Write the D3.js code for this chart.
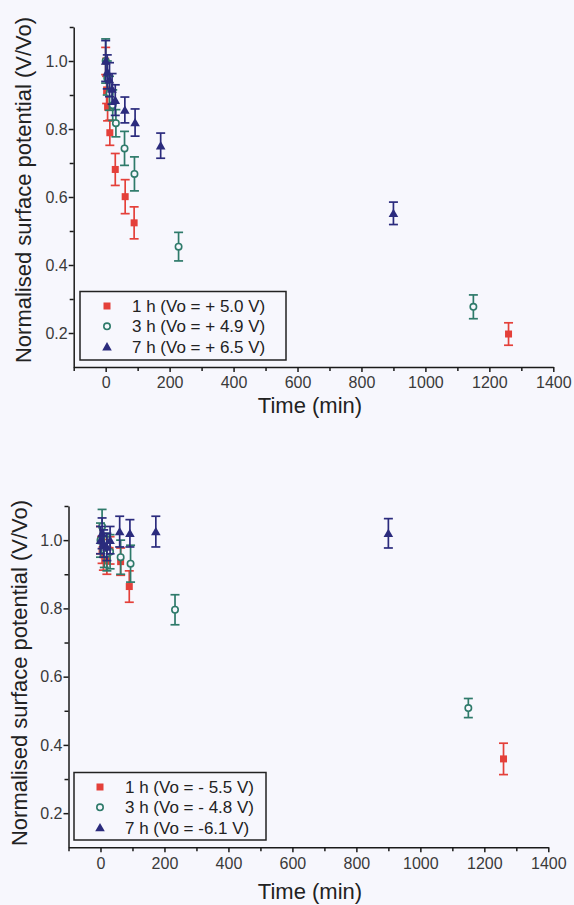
<!DOCTYPE html>
<html><head><meta charset="utf-8">
<script src="https://cdn.jsdelivr.net/npm/d3@7"></script>
<style>html,body{margin:0;padding:0;background:#f7f7fd;} svg{display:block;}</style>
</head><body><svg id="c" width="574" height="905"></svg>
<script>
// ---------- data ----------
const xTicks = [0, 200, 400, 600, 800, 1000, 1200, 1400];
const xMinorTicks = [-100, 100, 300, 500, 700, 900, 1100, 1300];
const yTicks = [0.2, 0.4, 0.6, 0.8, 1.0];
const yMinorTicks = [0.3, 0.5, 0.7, 0.9, 1.1];

const topLegend = ["1 h (Vo = + 5.0 V)", "3 h (Vo = + 4.9 V)", "7 h (Vo = + 6.5 V)"];
const bottomLegend = ["1 h (Vo = - 5.5 V)", "3 h (Vo = - 4.8 V)", "7 h (Vo = -6.1 V)"];

// top panel (positive charge)
const top1hTime  = [0, 3, 6, 13, 30, 61, 89, 1260];
const top1hValue = [1.0, 0.915, 0.864, 0.789, 0.681, 0.601, 0.524, 0.197];
const top1hError = [0.04, 0.04, 0.04, 0.037, 0.047, 0.05, 0.047, 0.033];
const top3hTime  = [0, 5, 12, 22, 32, 59, 90, 228, 1150];
const top3hValue = [1.0, 0.95, 0.905, 0.87, 0.817, 0.743, 0.668, 0.454, 0.277];
const top3hError = [0.065, 0.05, 0.05, 0.045, 0.04, 0.05, 0.05, 0.042, 0.035];
const top7hTime  = [0, 5, 12, 20, 30, 60, 92, 172, 900];
const top7hValue = [1.0, 0.968, 0.945, 0.918, 0.885, 0.856, 0.819, 0.751, 0.552];
const top7hError = [0.06, 0.05, 0.05, 0.045, 0.045, 0.038, 0.04, 0.037, 0.033];

// bottom panel (negative charge)
const bot1hTime  = [0, 5, 9, 20, 30, 63, 90, 1260];
const bot1hValue = [1.0, 0.972, 0.957, 0.94, 0.97, 0.937, 0.864, 0.359];
const bot1hError = [0.04, 0.04, 0.045, 0.04, 0.04, 0.04, 0.046, 0.046];
const bot3hTime  = [0, 5, 12, 20, 30, 63, 94, 233, 1150];
const bot3hValue = [1.0, 1.04, 0.97, 0.96, 0.966, 0.95, 0.931, 0.796, 0.508];
const bot3hError = [0.05, 0.05, 0.05, 0.05, 0.05, 0.05, 0.054, 0.044, 0.028];
const bot7hTime  = [0, 5, 10, 20, 30, 60, 92, 173, 900];
const bot7hValue = [1.0, 1.02, 0.99, 0.98, 1.0, 1.025, 1.02, 1.025, 1.02];
const bot7hError = [0.04, 0.045, 0.04, 0.04, 0.04, 0.045, 0.04, 0.045, 0.043];

// ---------- drawing ----------
const colors = ["#e4403a", "#2e7a6a", "#2b2b7d"];
const svg = d3.select("#c");
svg.append("rect").attr("width", 574).attr("height", 905).attr("fill", "#f7f7fd");

function zip(t, v, e) { return t.map((d, i) => ({t: d, v: v[i], e: e[i]})); }

function drawMarker(sel, k, fx, fy) {
  const c = colors[k];
  if (k === 0) {
    sel.append("rect").attr("x", d => fx(d) - 3.5).attr("y", d => fy(d) - 3.5)
      .attr("width", 7).attr("height", 7).attr("fill", c);
  } else if (k === 1) {
    sel.append("circle").attr("cx", fx).attr("cy", fy).attr("r", 3.2)
      .attr("fill", "#f7f7fd").attr("stroke", c).attr("stroke-width", 1.6);
  } else {
    sel.append("path").attr("d", d3.symbol(d3.symbolTriangle, 40)())
      .attr("transform", d => `translate(${fx(d)},${fy(d) + 1})`).attr("fill", c);
  }
}

function panel(cfg) {
  const x = d3.scaleLinear().domain([-100, 1400]).range(cfg.xr);
  const y = d3.scaleLinear().domain([0.1, 1.1]).range(cfg.yr);
  const g = svg.append("g");
  const font = "Liberation Sans, Arial, sans-serif";

  const xa = g.append("g").attr("transform", `translate(0,${cfg.yr[0]})`)
    .call(d3.axisBottom(x).tickValues(xTicks).tickFormat(d3.format("d")).tickSize(5).tickPadding(5).tickSizeOuter(0));
  const xm = g.append("g").attr("transform", `translate(0,${cfg.yr[0]})`)
    .call(d3.axisBottom(x).tickValues(xMinorTicks).tickFormat("").tickSize(4).tickSizeOuter(0));
  const ya = g.append("g").attr("transform", `translate(${cfg.xr[0]},0)`)
    .call(d3.axisLeft(y).tickValues(yTicks).tickFormat(d3.format(".1f")).tickSize(5).tickPadding(1).tickSizeOuter(0));
  const ym = g.append("g").attr("transform", `translate(${cfg.xr[0]},0)`)
    .call(d3.axisLeft(y).tickValues(yMinorTicks).tickFormat("").tickSize(4).tickSizeOuter(0));
  [xa, xm, ya, ym].forEach(a => {
    a.selectAll("path,line").attr("stroke", "#1a1a1a").attr("stroke-width", 1.5);
    a.selectAll("text").attr("font-family", font).attr("font-size", 16).attr("fill", "#3a3a3a");
  });
  xm.select("path").remove(); ym.select("path").remove();

  g.append("text").attr("x", 310).attr("y", cfg.xTitleY).attr("text-anchor", "middle")
    .attr("font-family", font).attr("font-size", 22).attr("fill", "#222").text("Time (min)");
  g.append("text").attr("transform", `translate(${cfg.yTitleX},${cfg.yTitleY}) rotate(-90)`)
    .attr("text-anchor", "middle").attr("font-family", font).attr("font-size", 22).attr("fill", "#222")
    .text("Normalised surface potential (V/Vo)");

  cfg.series.forEach((s, k) => {
    const c = colors[k];
    const pts = g.append("g").selectAll("g").data(s).join("g");
    pts.append("line").attr("x1", d => x(d.t)).attr("x2", d => x(d.t))
      .attr("y1", d => y(d.v - d.e)).attr("y2", d => y(d.v + d.e)).attr("stroke", c).attr("stroke-width", 1.7);
    [-1, 1].forEach(sgn => {
      pts.append("line").attr("x1", d => x(d.t) - 4.5).attr("x2", d => x(d.t) + 4.5)
        .attr("y1", d => y(d.v + sgn * d.e)).attr("y2", d => y(d.v + sgn * d.e))
        .attr("stroke", c).attr("stroke-width", 1.7);
    });
    drawMarker(pts, k, d => x(d.t), d => y(d.v));
  });

  const L = cfg.legend;
  g.append("rect").attr("x", L.x).attr("y", L.y).attr("width", L.w).attr("height", L.h)
    .attr("fill", "none").attr("stroke", "#222").attr("stroke-width", 1.5);
  cfg.labels.forEach((lab, k) => {
    const cy = L.y + 14.5 + k * 20.3;
    const lg = g.append("g").datum({});
    drawMarker(lg, k, () => L.mx, () => cy);
    g.append("text").attr("x", L.tx).attr("y", cy).attr("dy", "0.36em")
      .attr("font-family", font).attr("font-size", 17).attr("fill", "#222").text(lab);
  });
}

panel({
  xr: [73.7, 553.3], yr: [367, 27], xTitleY: 413, yTitleX: 31, yTitleY: 190,
  series: [zip(top1hTime, top1hValue, top1hError), zip(top3hTime, top3hValue, top3hError), zip(top7hTime, top7hValue, top7hError)],
  labels: topLegend,
  legend: {x: 80, y: 291.5, w: 206, h: 68.5, mx: 107, tx: 132}
});
panel({
  xr: [68.5, 548.3], yr: [847.3, 506], xTitleY: 899, yTitleX: 27, yTitleY: 673,
  series: [zip(bot1hTime, bot1hValue, bot1hError), zip(bot3hTime, bot3hValue, bot3hError), zip(bot7hTime, bot7hValue, bot7hError)],
  labels: bottomLegend,
  legend: {x: 74, y: 772.5, w: 192, h: 67.5, mx: 100, tx: 125}
});
</script></body></html>
